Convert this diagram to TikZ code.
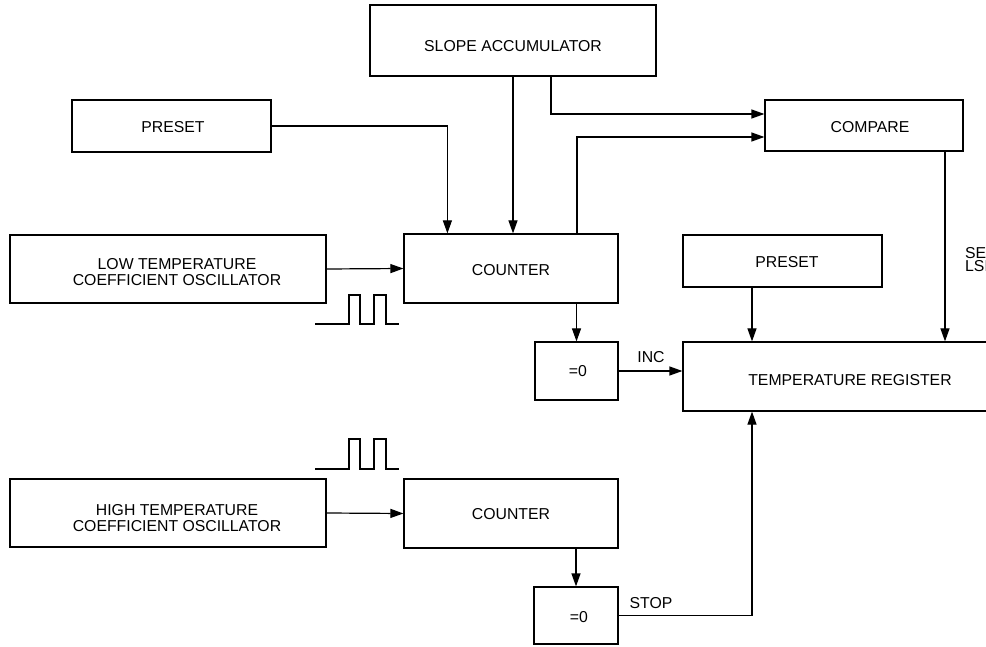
\documentclass[tikz,border=0pt]{standalone}
\usepackage{fontspec}
\setmainfont{Liberation Sans}
\usetikzlibrary{arrows.meta}
\begin{document}
\begin{tikzpicture}[x=1pt,y=-1pt,
  box/.style={draw, line width=1.2pt, rectangle, inner sep=0pt},
  lbl/.style={inner sep=0pt, font=\fontsize{15.8}{18}\selectfont, align=center},
  conn/.style={line width=1.2pt},
  arr/.style={line width=1.2pt, -{Triangle[length=13pt,width=9pt]}},
  wave/.style={line width=1.2pt}]
\useasboundingbox (0,0) rectangle (986,647);
\clip (0,0) rectangle (986,647);
\fill[white] (0,0) rectangle (986,647);

% boxes
\node[box, minimum width=286pt, minimum height=71pt] (slope) at (513,40.5) {};
\node[lbl] (slopet) at (513,46) {SLOPE ACCUMULATOR};
\node[box, minimum width=199pt, minimum height=52pt] (preset1) at (171.5,126) {};
\node[lbl] (preset1t) at (173,127) {PRESET};
\node[box, minimum width=198pt, minimum height=51pt] (compare) at (864,125.5) {};
\node[lbl] (comparet) at (870,127) {COMPARE};
\node[box, minimum width=316pt, minimum height=68pt] (ltco) at (168,269) {};
\node[lbl, text depth=0pt] (ltcot) at (177,272) {LOW TEMPERATURE\\[-2pt]COEFFICIENT OSCILLATOR};
\node[box, minimum width=214pt, minimum height=69pt] (counter1) at (511,268.5) {};
\node[lbl] (counter1t) at (511,270) {COUNTER};
\node[box, minimum width=199pt, minimum height=52pt] (preset2) at (782.5,261) {};
\node[lbl] (preset2t) at (787,262) {PRESET};
\node[box, minimum width=83pt, minimum height=58pt] (eq1) at (576.5,371) {};
\node[lbl] (eq1t) at (578,371) {=0};
\node[box, minimum width=334pt, minimum height=69pt] (tempreg) at (850,376.5) {};
\node[lbl] (tempregt) at (850,380) {TEMPERATURE REGISTER};
\node[box, minimum width=316pt, minimum height=68pt] (htco) at (168,513) {};
\node[lbl] (htcot) at (177,518.5) {HIGH TEMPERATURE\\[-2pt]COEFFICIENT OSCILLATOR};
\node[box, minimum width=214pt, minimum height=69pt] (counter2) at (511,513.5) {};
\node[lbl] (counter2t) at (511,514) {COUNTER};
\node[box, minimum width=84pt, minimum height=57pt] (eq2) at (576,615.5) {};
\node[lbl] (eq2t) at (579,617) {=0};

% labels
\node[lbl] (inc) at (651,357) {INC};
\node[lbl] (stop) at (651,603) {STOP};
\node[lbl, anchor=west, align=left, font=\fontsize{15.8}{13}\selectfont] (sel) at (965,259.5) {SET/CLEAR\\LSB};

% connectors
\draw[arr] (preset1.east) -| ([xshift=44pt]counter1.north west);
\draw[arr] (slope.south) -- (slope.south |- counter1.north);
\draw[arr] ([xshift=38pt]slope.south) |- ([yshift=11.5pt]compare.west);
\draw[arr] ([xshift=66pt]counter1.north) |- ([yshift=-11.5pt]compare.west);
\draw[arr] (ltco.east) -- (counter1.west);
\draw[arr] (eq1.north |- counter1.south) -- (eq1.north);
\draw[arr] (eq1.east) -- (eq1.east -| tempreg.west);
\draw[arr] ([xshift=-30.5pt]preset2.south) -- ([xshift=-30.5pt]preset2.south |- tempreg.north);
\draw[arr] ([xshift=81pt]compare.south) -- ([xshift=81pt]compare.south |- tempreg.north);
\draw[arr] (htco.east) -- (counter2.west);
\draw[arr] (eq2.north |- counter2.south) -- (eq2.north);
\draw[arr] (eq2.east) -| ([xshift=-98pt]tempreg.south);

% waveforms
\draw[wave] (315,324) -- (349,324) -- (349,295) -- (360,295) -- (360,324) -- (374,324) -- (374,295) -- (386,295) -- (386,324) -- (399,324);
\draw[wave] (315,469) -- (349,469) -- (349,439) -- (360,439) -- (360,469) -- (374,469) -- (374,439) -- (386,439) -- (386,469) -- (399,469);
\end{tikzpicture}
\end{document}
